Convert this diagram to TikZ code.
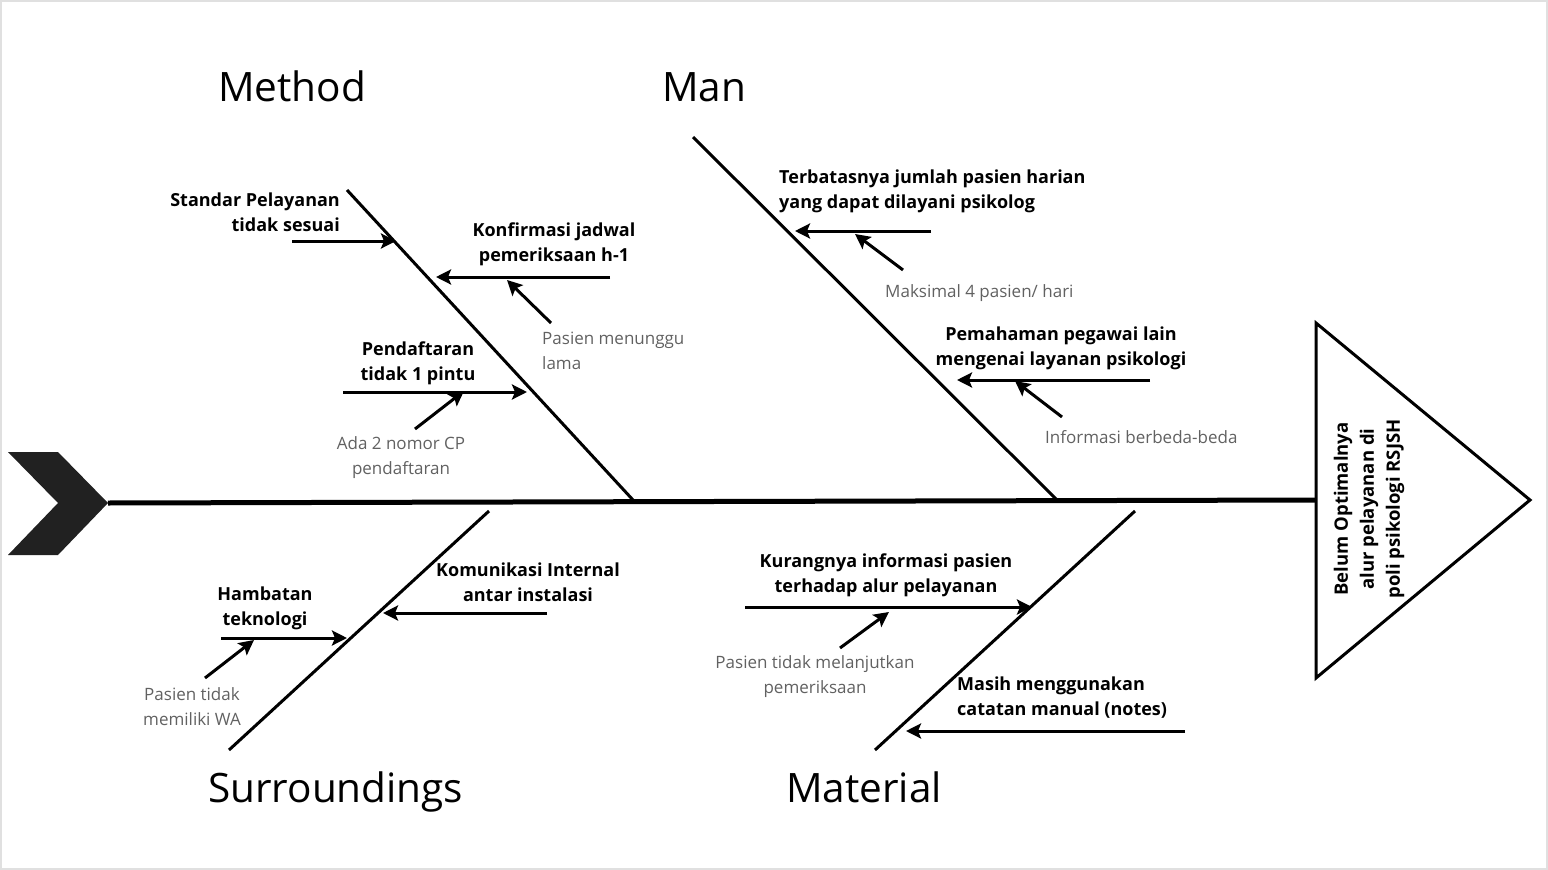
\documentclass[tikz,border=0pt]{standalone}
\usepackage{fontspec}
\setmainfont{Open Sans}
\usetikzlibrary{arrows.meta}
\begin{document}
\begin{tikzpicture}[x=1pt,y=-1pt,
  bone/.style={line width=3pt},
  arr/.style={line width=3pt,-{Stealth[length=15pt,width=15pt,inset=3pt]}},
  cause/.style={font=\bfseries\fontsize{18}{25}\selectfont,align=center,inner sep=0pt},
  sub/.style={font=\fontsize{17}{25}\selectfont,text=black!62,align=center,inner sep=0pt},
  cat/.style={font=\fontsize{40.5}{48}\selectfont,inner sep=0pt,anchor=base west}]
\useasboundingbox (0,0) rectangle (1548,870);
\draw[black!12,line width=2pt] (1,1) rectangle (1547,869);

% head chevron and spine
\fill[black!87] (8,452) -- (58,452) -- (108,503) -- (58,555) -- (8,555) -- (58,503) -- cycle;
\coordinate (tail) at (108,503);
\coordinate (head) at (1316,500);
\draw[line width=5pt] (tail) -- (head);

% effect triangle
\draw[line width=3pt,line join=miter] (1316,323) -- (1530,500) -- (1316,678) -- cycle;
\node[cause,font=\bfseries\fontsize{18.5}{26}\selectfont,rotate=90] (effect) at (1369,509)
  {Belum Optimalnya\\alur pelayanan di\\poli psikologi RSJSH};

% category titles
\node[cat] (method) at (218,101) {Method};
\node[cat] (man) at (662,101) {Man};
\node[cat] (surr) at (208,802) {Surroundings};
\node[cat] (mat) at (786,802) {Material};

% bones
\coordinate (mt) at (347,190); \coordinate (mb) at (633,500);
\coordinate (nt) at (693,137); \coordinate (nb) at (1057,500);
\coordinate (st) at (489,511); \coordinate (sb) at (229,750);
\coordinate (at) at (1135,511); \coordinate (ab) at (875,750);
\draw[bone] (mt) -- (mb);
\draw[bone] (nt) -- (nb);
\draw[bone] (st) -- (sb);
\draw[bone] (at) -- (ab);

% ---- Method
\node[cause,anchor=east,align=right] (m1) at (340,212) {Standar Pelayanan\\tidak sesuai};
\coordinate (m1s) at (292,241); \coordinate (m1e) at (396,241);
\draw[arr] (m1s) -- (m1e);

\node[cause] (m2) at (554,244) {Konfirmasi jadwal\\pemeriksaan h-1};
\coordinate (m2s) at (610,277); \coordinate (m2e) at (436,277);
\draw[arr] (m2s) -- (m2e);
\node[sub,anchor=west,align=left] (m2a) at (542,351) {Pasien menunggu\\lama};
\coordinate (m2as) at (551,323); \coordinate (m2ae) at (507,280);
\draw[arr] (m2as) -- (m2ae);

\node[cause] (m3) at (418,363) {Pendaftaran\\tidak 1 pintu};
\coordinate (m3s) at (343,392); \coordinate (m3e) at (527,392);
\draw[arr] (m3s) -- (m3e);
\node[sub] (m3a) at (401,458) {Ada 2 nomor CP\\pendaftaran};
\coordinate (m3as) at (415,429); \coordinate (m3ae) at (464,391);
\draw[arr] (m3as) -- (m3ae);

% ---- Man
\node[cause,anchor=west,align=left] (n1) at (779,191) {Terbatasnya jumlah pasien harian\\yang dapat dilayani psikolog};
\coordinate (n1s) at (931,231); \coordinate (n1e) at (795,231);
\draw[arr] (n1s) -- (n1e);
\node[sub,anchor=base west] (n1a) at (885,297) {Maksimal 4 pasien/ hari};
\coordinate (n1as) at (903,270); \coordinate (n1ae) at (855,234);
\draw[arr] (n1as) -- (n1ae);

\node[cause] (n2) at (1061,348) {Pemahaman pegawai lain\\mengenai layanan psikologi};
\coordinate (n2s) at (1150,380); \coordinate (n2e) at (957,380);
\draw[arr] (n2s) -- (n2e);
\node[sub,anchor=base west] (n2a) at (1045,443) {Informasi berbeda-beda};
\coordinate (n2as) at (1062,417); \coordinate (n2ae) at (1015,381);
\draw[arr] (n2as) -- (n2ae);

% ---- Surroundings
\node[cause] (s1) at (528,582) {Komunikasi Internal\\antar instalasi};
\coordinate (s1s) at (547,613); \coordinate (s1e) at (383,613);
\draw[arr] (s1s) -- (s1e);

\node[cause] (s2) at (265,608) {Hambatan\\teknologi};
\coordinate (s2s) at (221,638); \coordinate (s2e) at (347,638);
\draw[arr] (s2s) -- (s2e);
\node[sub] (s2a) at (192,707) {Pasien tidak\\memiliki WA};
\coordinate (s2as) at (205,678); \coordinate (s2ae) at (254,640);
\draw[arr] (s2as) -- (s2ae);

% ---- Material
\node[cause] (a1) at (886,575) {Kurangnya informasi pasien\\terhadap alur pelayanan};
\coordinate (a1s) at (745,607); \coordinate (a1e) at (1032,607);
\draw[arr] (a1s) -- (a1e);
\node[sub] (a1a) at (815,677) {Pasien tidak melanjutkan\\pemeriksaan};
\coordinate (a1as) at (840,648); \coordinate (a1ae) at (889,612);
\draw[arr] (a1as) -- (a1ae);

\node[cause,anchor=west,align=left] (a2) at (957,698) {Masih menggunakan\\catatan manual (notes)};
\coordinate (a2s) at (1185,731); \coordinate (a2e) at (906,731);
\draw[arr] (a2s) -- (a2e);
\end{tikzpicture}
\end{document}
